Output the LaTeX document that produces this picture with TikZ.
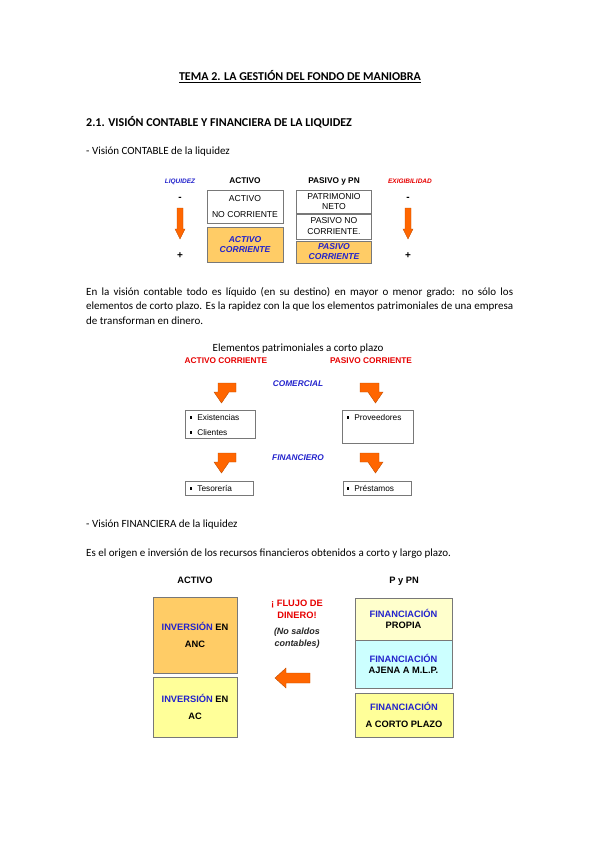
\documentclass[tikz,border=0pt]{standalone}
\usepackage{fontspec}
\setmainfont{Carlito}
\newfontfamily\arialfont{Liberation Sans}
\usepackage{tikz}
\usetikzlibrary{positioning}
\definecolor{boxorange}{RGB}{255,204,102}
\definecolor{boxpale}{RGB}{255,255,204}
\definecolor{boxyellow}{RGB}{255,255,153}
\definecolor{boxcyan}{RGB}{204,255,255}
\definecolor{arroworange}{RGB}{255,102,0}
\definecolor{txtblue}{RGB}{34,34,204}
\definecolor{txtred}{RGB}{230,0,0}
\definecolor{boxline}{RGB}{120,120,120}
\tikzset{
  bodytxt/.style  = {anchor=base west, inner sep=0pt, font=\fontsize{11}{14.5}\selectfont},
  headtxt/.style  = {anchor=base, inner sep=0pt, font=\arialfont\bfseries\fontsize{8.3}{10}\selectfont},
  sidetxt/.style  = {anchor=base, inner sep=0pt, font=\arialfont\bfseries\itshape\fontsize{6.5}{8}\selectfont},
  signtxt/.style  = {anchor=base, inner sep=0pt, font=\arialfont\bfseries\fontsize{10}{10}\selectfont},
  balbox/.style   = {draw=boxline, line width=0.6pt, minimum width=76pt, align=center, inner sep=0pt},
  listbox/.style  = {draw=boxline, line width=0.6pt, inner sep=0pt},
  listtxt/.style  = {anchor=base west, inner sep=0pt, font=\arialfont\fontsize{8.3}{10}\selectfont},
  finbox/.style   = {draw=boxline, line width=0.6pt, align=center, inner sep=0pt},
  blockarrow/.style = {fill=arroworange, draw=arroworange!75!black, line width=0.4pt}
}
\newcommand{\sqbul}{\rule[0.3ex]{2.2pt}{2.2pt}}

\begin{document}
\begin{tikzpicture}[x=1pt, y=-1pt]
  \useasboundingbox (0,0) rectangle (599,848);
  % ---- headings ----
  \node[anchor=base, inner sep=0pt, font=\bfseries\fontsize{12}{14}\selectfont] (title) at (300,81)
    {\underline{TEMA 2. LA GESTIÓN DEL FONDO DE MANIOBRA}};
  \node[bodytxt, font=\bfseries\fontsize{12}{14}\selectfont] (sec) at (86,126)
    {2.1. VISIÓN CONTABLE Y FINANCIERA DE LA LIQUIDEZ};
  \node[bodytxt] (vcont) at (86,154) {- Visión CONTABLE de la liquidez};

  % ---- balance: liquidez / exigibilidad ----
  \node[sidetxt, text=txtblue] (liq)  at (180,183) {LIQUIDEZ};
  \node[headtxt]               (hact) at (245,183) {ACTIVO};
  \node[headtxt]               (hpas) at (334,183) {PASIVO y PN};
  \node[sidetxt, text=txtred]  (exig) at (410,183) {EXIGIBILIDAD};
  \foreach \ax/\nm in {180/l, 408/r} {
    \node[signtxt] (\nm min) at (\ax,200) {-};
    \node[signtxt] (\nm plus) at (\ax,258) {+};
    \draw[blockarrow] ({\ax-3},208) -- ({\ax+3},208) -- ({\ax+3},229) -- ({\ax+5},229)
      -- (\ax,239) -- ({\ax-5},229) -- ({\ax-3},229) -- cycle;
  }
  \node[balbox, minimum height=33pt, font=\arialfont\fontsize{8.6}{16}\selectfont] (anc) at (245,206.5)
    {ACTIVO\\NO CORRIENTE};
  \node[balbox, fill=boxorange, minimum height=35pt, text=txtblue,
        font=\arialfont\bfseries\itshape\fontsize{8.6}{10}\selectfont] (ac) at (245,244.5)
    {ACTIVO\\CORRIENTE};
  \node[balbox, minimum width=75pt, minimum height=23pt, font=\arialfont\fontsize{8.6}{10.5}\selectfont] (pn) at (334,201.5)
    {PATRIMONIO\\NETO};
  \node[balbox, minimum width=75pt, minimum height=25pt, font=\arialfont\fontsize{8.6}{11}\selectfont] (pnc) at (334,226.5)
    {PASIVO NO\\CORRIENTE.};
  \node[balbox, fill=boxorange, minimum width=75pt, minimum height=22pt, text=txtblue,
        font=\arialfont\bfseries\itshape\fontsize{8.6}{10}\selectfont] (pc) at (334,252)
    {PASIVO\\CORRIENTE};

  % ---- paragraph ----
  \node[bodytxt, text width=427pt, align=justify] (par1) at (86,295)
    {En la visión contable todo es líquido (en su destino) en mayor o menor grado: no sólo los\linebreak
     elementos de corto plazo. Es la rapidez con la que los elementos patrimoniales de una empresa\linebreak
     de transforman en dinero.};

  % ---- elementos a corto plazo ----
  \node[anchor=base, inner sep=0pt, font=\fontsize{11}{13}\selectfont] (elem) at (298,351)
    {Elementos patrimoniales a corto plazo};
  \node[headtxt, text=txtred] (acor) at (226,363) {ACTIVO CORRIENTE};
  \node[headtxt, text=txtred] (pcor) at (371,363) {PASIVO CORRIENTE};
  \node[headtxt, text=txtblue, font=\arialfont\bfseries\itshape\fontsize{8.3}{10}\selectfont] (com) at (298,386) {COMERCIAL};
  \node[headtxt, text=txtblue, font=\arialfont\bfseries\itshape\fontsize{8.3}{10}\selectfont] (fin) at (298,460) {FINANCIERO};
  \foreach \by in {383,453} {
    \draw[blockarrow] (236,\by) -- (218,\by) -- (218,{\by+9}) -- (214,{\by+9})
      -- (221.5,{\by+20}) -- (229,{\by+9}) -- (236,{\by+9}) -- cycle;
    \draw[blockarrow] (360,\by) -- (379,\by) -- (379,{\by+9}) -- (383,{\by+9})
      -- (375.5,{\by+20}) -- (368,{\by+9}) -- (360,{\by+9}) -- cycle;
  }
  \node[listbox, minimum width=70pt, minimum height=28pt] (bexis) at (220,424) {};
  \node[listbox, minimum width=71pt, minimum height=33pt] (bprov) at (377.5,426.5) {};
  \node[listbox, minimum width=68pt, minimum height=14pt] (btes)  at (219,488) {};
  \node[listbox, minimum width=68pt, minimum height=14pt] (bpres) at (377,488) {};
  \node[listtxt] (exis) at (190,420) {\sqbul\hspace{5pt}Existencias};
  \node[listtxt] (cli)  at (190,435) {\sqbul\hspace{5pt}Clientes};
  \node[listtxt] (prov) at (347,420) {\sqbul\hspace{5pt}Proveedores};
  \node[listtxt] (tes)  at (190,491) {\sqbul\hspace{5pt}Tesorería};
  \node[listtxt] (pres) at (347,491) {\sqbul\hspace{5pt}Préstamos};

  % ---- vision financiera ----
  \node[bodytxt] (vfin) at (86,527) {- Visión FINANCIERA de la liquidez};
  \node[bodytxt] (orig) at (86,556)
    {Es el origen e inversión de los recursos financieros obtenidos a corto y largo plazo.};
  \node[headtxt, font=\arialfont\bfseries\fontsize{9.3}{11}\selectfont] (hact2) at (195,583) {ACTIVO};
  \node[headtxt, font=\arialfont\bfseries\fontsize{9.3}{11}\selectfont] (hpn)   at (404,583) {P y PN};
  \node[finbox, fill=boxorange, minimum width=84pt, minimum height=76pt,
        font=\arialfont\bfseries\fontsize{9.3}{17}\selectfont] (invanc) at (195,635)
    {\textcolor{txtblue}{INVERSIÓN} EN\\ANC};
  \node[finbox, fill=boxyellow, minimum width=84pt, minimum height=60pt,
        font=\arialfont\bfseries\fontsize{9.3}{17}\selectfont] (invac) at (195,707)
    {\textcolor{txtblue}{INVERSIÓN} EN\\AC};
  \node[finbox, fill=boxpale, minimum width=97pt, minimum height=42pt,
        font=\arialfont\bfseries\fontsize{9.3}{10.7}\selectfont] (fprop) at (403.5,619)
    {\textcolor{txtblue}{FINANCIACIÓN}\\PROPIA};
  \node[finbox, fill=boxcyan, minimum width=97pt, minimum height=48pt,
        font=\arialfont\bfseries\fontsize{9.3}{10.7}\selectfont] (fajen) at (403.5,664)
    {\textcolor{txtblue}{FINANCIACIÓN}\\AJENA A M.L.P.};
  \node[finbox, fill=boxyellow, minimum width=98pt, minimum height=44pt,
        font=\arialfont\bfseries\fontsize{9.3}{16.5}\selectfont] (fcort) at (404,715)
    {\textcolor{txtblue}{FINANCIACIÓN}\\A CORTO PLAZO};
  \node[anchor=base, inner sep=0pt, align=center, text=txtred,
        font=\arialfont\bfseries\fontsize{9.3}{12}\selectfont] (flujo) at (297,618)
    {¡ FLUJO DE\\DINERO!};
  \node[anchor=base, inner sep=0pt, align=center, text=black!85,
        font=\arialfont\bfseries\itshape\fontsize{9}{12}\selectfont] (nosal) at (297,646)
    {(No saldos\\contables)};
  \draw[blockarrow] (310,673) -- (286,673) -- (286,668) -- (275,678) -- (286,688)
    -- (286,683) -- (310,683) -- cycle;
\end{tikzpicture}
\end{document}
